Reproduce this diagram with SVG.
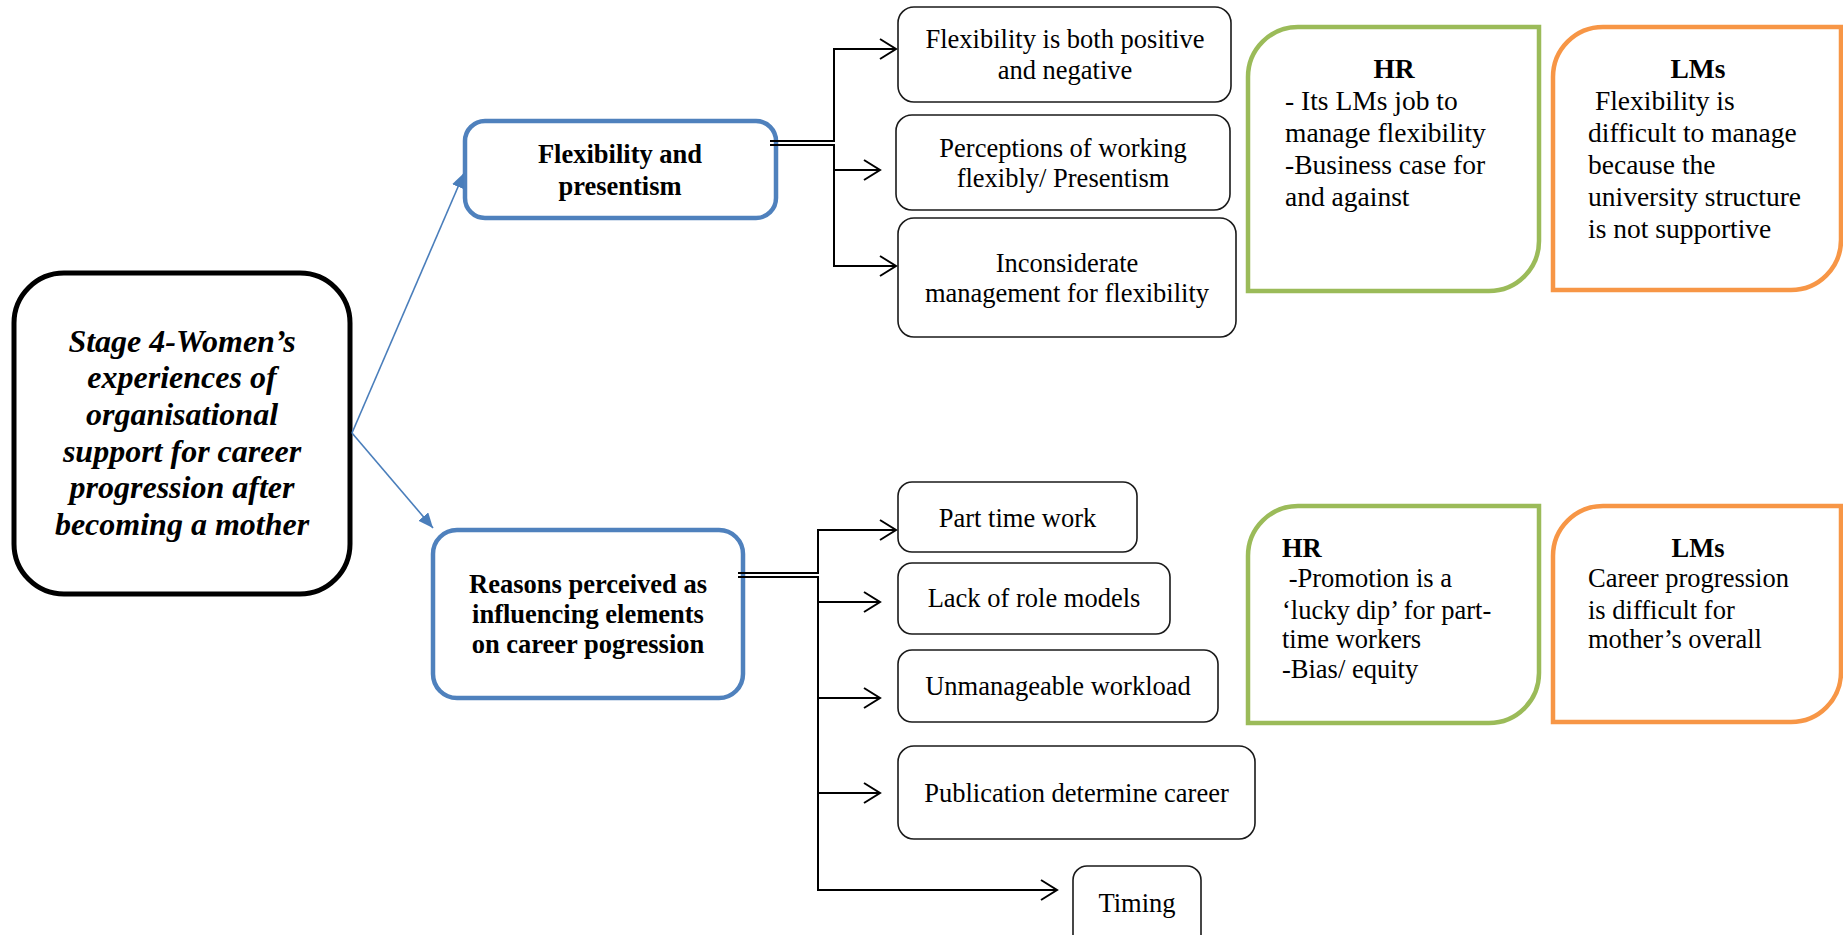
<svg xmlns="http://www.w3.org/2000/svg" width="1843" height="935" viewBox="0 0 1843 935">
<style>
text{font-family:"Liberation Serif","Times New Roman",serif;fill:#000}
.c{text-anchor:middle}
.b{font-weight:bold}
.main{font-weight:bold;font-style:italic;font-size:32px}
.t{font-size:26.5px}
.s{font-size:27.5px}
.box{fill:#fff;stroke:#1a1a1a;stroke-width:1.6}
.blue{fill:#fff;stroke:#4F81BD;stroke-width:4.5}
.green{fill:#fff;stroke:#9BBB59;stroke-width:4.5}
.orange{fill:#fff;stroke:#F79646;stroke-width:4.5}
.ln{fill:none;stroke:#000;stroke-width:2}
.bl{fill:none;stroke:#4A7EBB;stroke-width:1.6}
</style>
<defs>
<marker id="oa" markerUnits="userSpaceOnUse" markerWidth="22" markerHeight="26" refX="18" refY="12" orient="auto">
<path d="M2,2 L18,12 L2,22" fill="none" stroke="#000" stroke-width="2"/>
</marker>
<marker id="ba" markerUnits="userSpaceOnUse" markerWidth="16" markerHeight="14" refX="15" refY="6.5" orient="auto">
<path d="M0,0 L15,6.5 L0,13 z" fill="#4A7EBB"/>
</marker>
</defs>
<rect width="1843" height="935" fill="#fff"/>

<g id="main">
<rect x="14" y="273" width="336" height="321" rx="50" ry="50" fill="#fff" stroke="#000" stroke-width="5"/>
<text class="main c" x="182" y="352">Stage 4-Women’s</text>
<text class="main c" x="182" y="388">experiences of</text>
<text class="main c" x="182" y="425">organisational</text>
<text class="main c" x="182" y="462">support for career</text>
<text class="main c" x="182" y="498">progression after</text>
<text class="main c" x="182" y="535">becoming a mother</text>
</g>

<g id="flex">
<rect class="blue" x="465" y="121" width="311" height="97" rx="20"/>
<text class="t b c" x="620" y="163">Flexibility and</text>
<text class="t b c" x="620" y="195">presentism</text>
</g>

<g id="reasons">
<rect class="blue" x="433" y="530" width="310" height="168" rx="24"/>
<text class="t b c" x="588" y="593">Reasons perceived as</text>
<text class="t b c" x="588" y="623">influencing elements</text>
<text class="t b c" x="588" y="653">on career pogression</text>
</g>

<g id="f1">
<rect class="box" x="898" y="7" width="333" height="95" rx="16"/>
<text class="t c" x="1065" y="48">Flexibility is both positive</text>
<text class="t c" x="1065" y="79">and negative</text>
</g>
<g id="f2">
<rect class="box" x="896" y="115" width="334" height="95" rx="16"/>
<text class="t c" x="1063" y="157">Perceptions of working</text>
<text class="t c" x="1063" y="187">flexibly/ Presentism</text>
</g>
<g id="f3">
<rect class="box" x="898" y="218" width="338" height="119" rx="16"/>
<text class="t c" x="1067" y="272">Inconsiderate</text>
<text class="t c" x="1067" y="302">management for flexibility</text>
</g>

<g id="r1">
<rect class="box" x="898" y="482" width="239" height="70" rx="14"/>
<text class="t c" x="1017.5" y="527">Part time work</text>
</g>
<g id="r2">
<rect class="box" x="898" y="563" width="272" height="71" rx="14"/>
<text class="t c" x="1034" y="607">Lack of role models</text>
</g>
<g id="r3">
<rect class="box" x="898" y="650" width="320" height="72" rx="14"/>
<text class="t c" x="1058" y="695">Unmanageable workload</text>
</g>
<g id="r4">
<rect class="box" x="898" y="746" width="357" height="93" rx="16"/>
<text class="t c" x="1076.5" y="802">Publication determine career</text>
</g>
<g id="r5">
<rect class="box" x="1073" y="866" width="128" height="90" rx="14"/>
<text class="t c" x="1137" y="912">Timing</text>
</g>

<g id="hr1">
<path class="green" d="M1248,291 L1248,77 A50,50 0 0 1 1298,27 L1539,27 L1539,241 A50,50 0 0 1 1489,291 Z"/>
<text class="s b c" x="1394" y="78">HR</text>
<text class="s" x="1285" y="110">- Its LMs job to</text>
<text class="s" x="1285" y="142">manage flexibility</text>
<text class="s" x="1285" y="174">-Business case for</text>
<text class="s" x="1285" y="206">and against</text>
</g>
<g id="lm1">
<path class="orange" d="M1553,290 L1553,77 A50,50 0 0 1 1603,27 L1841,27 L1841,240 A50,50 0 0 1 1791,290 Z"/>
<text class="s b c" x="1698" y="78">LMs</text>
<text class="s" x="1588" y="110" xml:space="preserve"> Flexibility is</text>
<text class="s" x="1588" y="142">difficult to manage</text>
<text class="s" x="1588" y="174">because the</text>
<text class="s" x="1588" y="206">university structure</text>
<text class="s" x="1588" y="238">is not supportive</text>
</g>

<g id="hr2">
<path class="green" d="M1248,723 L1248,556 A50,50 0 0 1 1298,506 L1539,506 L1539,673 A50,50 0 0 1 1489,723 Z"/>
<text class="t b" x="1282" y="557">HR</text>
<text class="t" x="1282" y="587" xml:space="preserve"> -Promotion is a</text>
<text class="t" x="1282" y="619">‘lucky dip’ for part-</text>
<text class="t" x="1282" y="648">time workers</text>
<text class="t" x="1282" y="678">-Bias/ equity</text>
</g>
<g id="lm2">
<path class="orange" d="M1553,722 L1553,556 A50,50 0 0 1 1603,506 L1841,506 L1841,672 A50,50 0 0 1 1791,722 Z"/>
<text class="t b c" x="1698" y="557">LMs</text>
<text class="t" x="1588" y="587">Career progression</text>
<text class="t" x="1588" y="619">is difficult for</text>
<text class="t" x="1588" y="648">mother’s overall</text>
</g>

<g id="connectors">
<path class="bl" d="M352,433 L464,173" marker-end="url(#ba)"/>
<path class="bl" d="M352,433 L433,528" marker-end="url(#ba)"/>
<path class="ln" d="M770,141 H834 V49 H896" marker-end="url(#oa)"/>
<path class="ln" d="M770,145 H834 V266 H896" marker-end="url(#oa)"/>
<path class="ln" d="M834,170 H880" marker-end="url(#oa)"/>
<path class="ln" d="M738,573 H818 V530 H896" marker-end="url(#oa)"/>
<path class="ln" d="M738,577 H818 V890 H1057" marker-end="url(#oa)"/>
<path class="ln" d="M818,602 H880" marker-end="url(#oa)"/>
<path class="ln" d="M818,698 H880" marker-end="url(#oa)"/>
<path class="ln" d="M818,793 H880" marker-end="url(#oa)"/>
</g>
</svg>
